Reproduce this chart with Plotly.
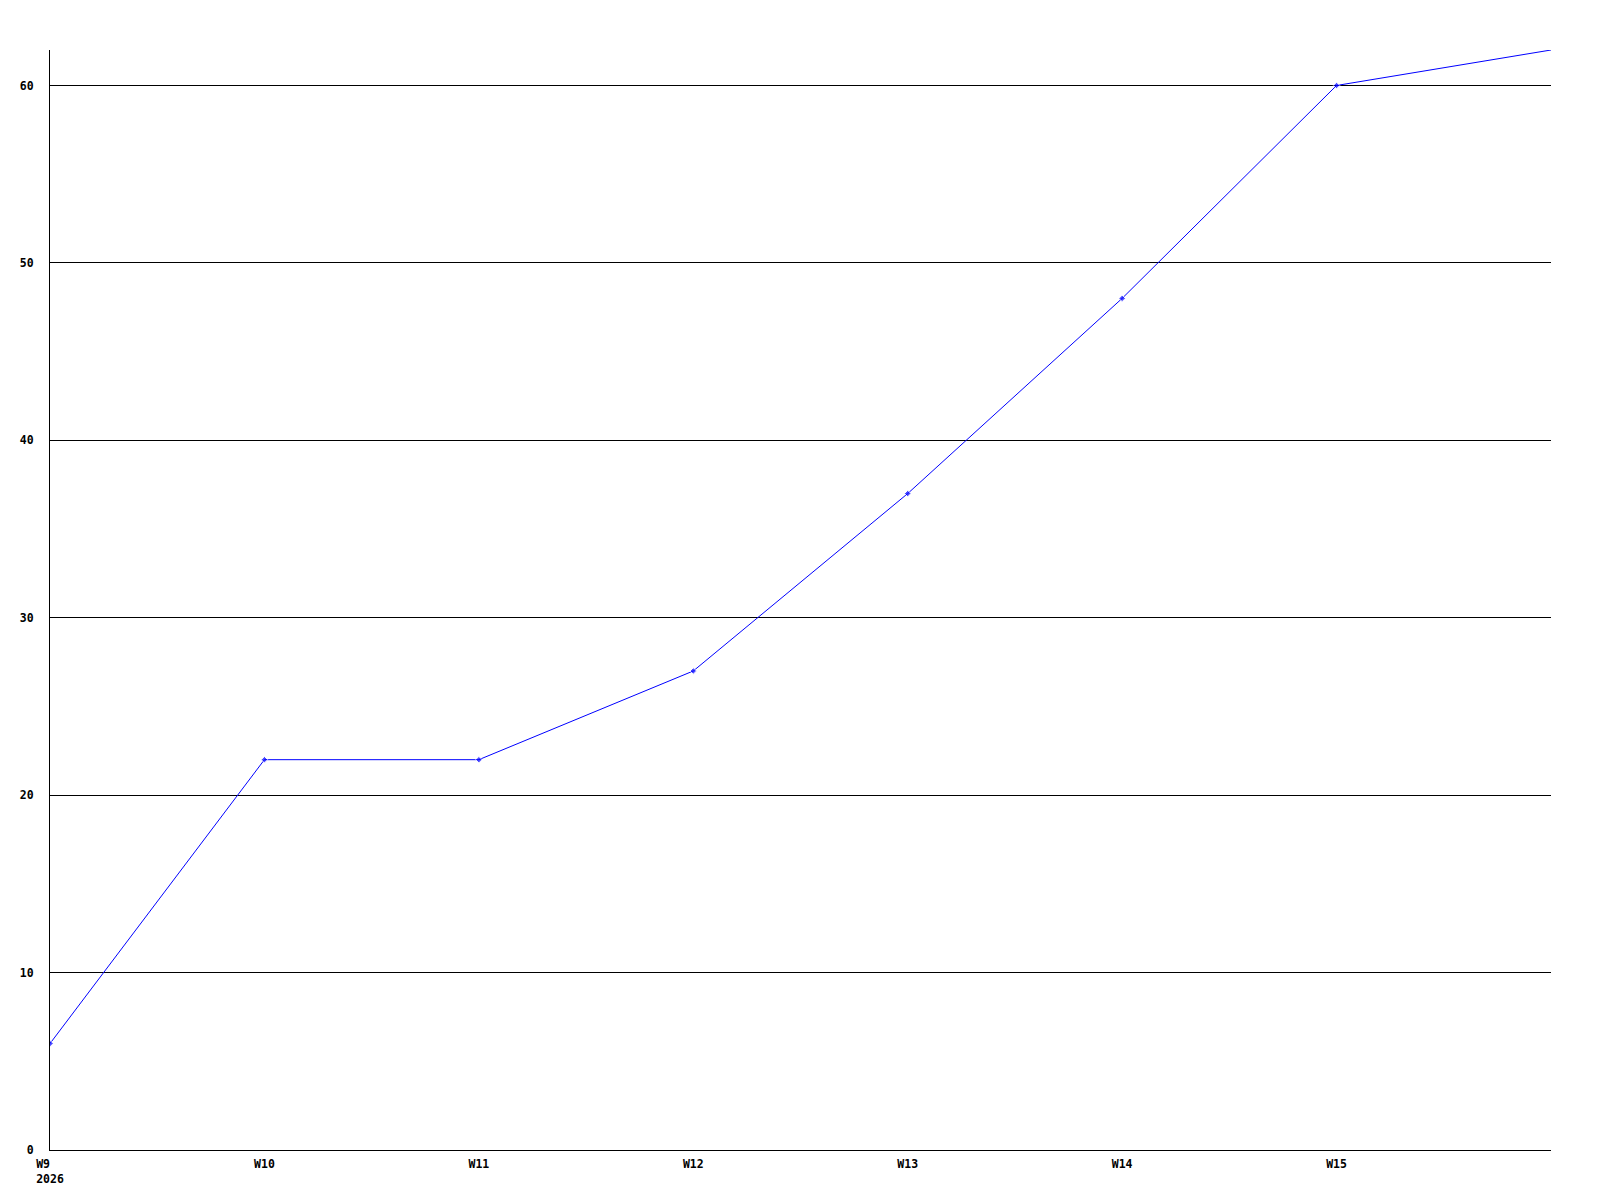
import plotly.graph_objects as go

weeks = ["W9", "W10", "W11", "W12", "W13", "W14", "W15", "W16"]
values = [6, 22, 22, 27, 37, 48, 60, 62]
year_label = "2026"
y_ticks = [0, 10, 20, 30, 40, 50, 60]

x_pos = list(range(len(weeks)))
first = weeks[0] + "\u00a0" * (len(year_label) - len(weeks[0]))
tick_text = [first + "<br>" + year_label] + weeks[1:len(weeks) - 1]
marker_sizes = [5] * (len(weeks) - 1) + [0]

fig = go.Figure()
fig.add_trace(go.Scatter(
    x=x_pos, y=values, mode="lines+markers",
    line=dict(color="#0000ff", width=1),
    marker=dict(symbol="diamond", size=marker_sizes, color="#0000ff"),
    cliponaxis=True, hoverinfo="skip",
))

font = dict(family="DejaVu Sans Mono", size=11.5, color="black", weight="bold")

fig.update_layout(
    width=1600, height=1200,
    margin=dict(l=42, r=57, t=42, b=58),
    paper_bgcolor="white", plot_bgcolor="white",
    showlegend=False,
    xaxis=dict(
        range=[0, 7], tickvals=x_pos[:-1], ticktext=tick_text,
        showgrid=False, zeroline=False, showline=True, linecolor="black", linewidth=1,
        ticks="", tickfont=font, ticklabelstandoff=3,
    ),
    yaxis=dict(
        range=[0, 62], tickvals=y_ticks,
        showgrid=True, gridcolor="black", gridwidth=1,
        zeroline=False, showline=True, linecolor="black", linewidth=1,
        ticks="", tickfont=font, ticklabelstandoff=13,
    ),
)

fig.write_html("out.html")
